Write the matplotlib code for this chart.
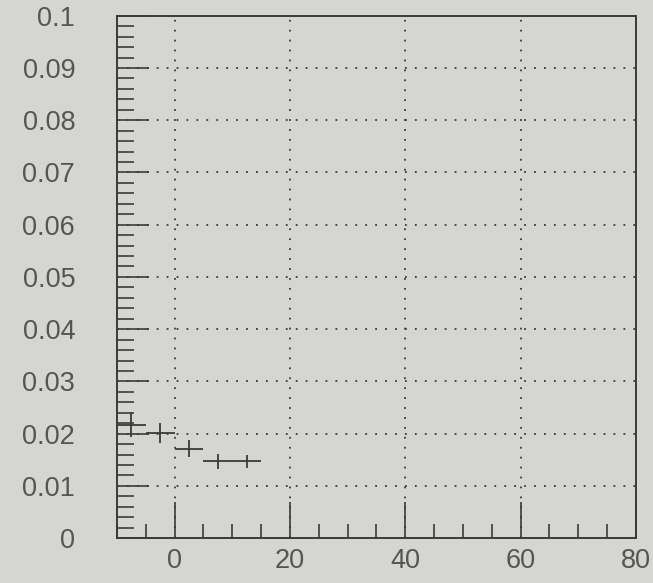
import matplotlib.pyplot as plt
from matplotlib.ticker import MultipleLocator

# measured points: bin centre, half bin width, value, error
x = [-7.5, -2.5, 2.5, 7.5, 12.5]
xerr = [2.5, 2.5, 2.5, 2.5, 2.5]
y = [0.0217, 0.0201, 0.0171, 0.0147, 0.0147]
yerr = [0.0024, 0.0019, 0.0016, 0.0014, 0.0013]

xticks = [0, 20, 40, 60, 80]
yticks = [0, 0.01, 0.02, 0.03, 0.04, 0.05, 0.06, 0.07, 0.08, 0.09, 0.1]
ylabels = ['0', '0.01', '0.02', '0.03', '0.04', '0.05', '0.06', '0.07', '0.08', '0.09', '0.1']

bg = '#d5d6d1'
ink = '#3a3a3a'

fig = plt.figure(figsize=(6.53, 5.83), dpi=100, facecolor=bg)
ax = fig.add_axes([0.179, 0.077, 0.795, 0.896], facecolor=bg)

ax.errorbar(x, y, xerr=xerr, yerr=yerr, fmt='none', ecolor=ink,
            elinewidth=1.3, capsize=0)

ax.set_xlim(-10, 80)
ax.set_ylim(0, 0.1)

ax.set_xticks(xticks)
ax.set_xticklabels([str(t) for t in xticks])
ax.set_yticks(yticks)
ax.set_yticklabels(ylabels)
ax.xaxis.set_minor_locator(MultipleLocator(5))
ax.yaxis.set_minor_locator(MultipleLocator(0.002))

ax.tick_params(which='both', direction='in', color=ink, width=1.2,
               top=False, right=False)
ax.tick_params(axis='x', which='major', length=26, pad=7)
ax.tick_params(axis='x', which='minor', length=10)
ax.tick_params(axis='y', which='major', length=23, pad=30)
ax.tick_params(axis='y', which='minor', length=12)
for lab in ax.get_xticklabels() + ax.get_yticklabels():
    lab.set_fontfamily('Liberation Sans')
    lab.set_fontsize(19.5)
    lab.set_color('#555555')

ax.grid(True, which='major', color=ink, linestyle=(0, (1, 4.5)), linewidth=1.3)

for s in ax.spines.values():
    s.set_color(ink)
    s.set_linewidth(1.4)

fig.savefig('out.png', dpi=100, facecolor=bg)
